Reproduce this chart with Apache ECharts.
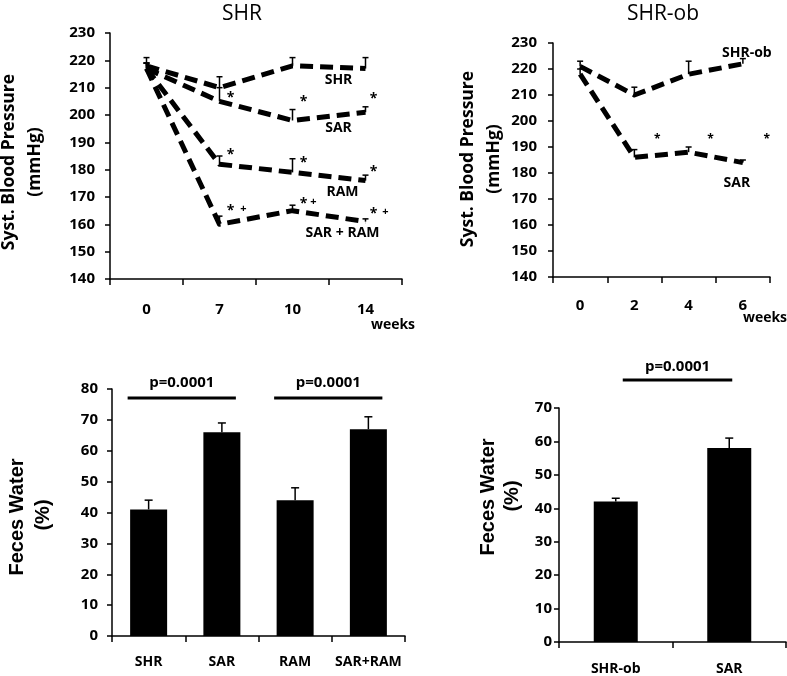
<!DOCTYPE html>
<html><head><meta charset="utf-8">
<script src="https://cdn.jsdelivr.net/npm/echarts@6/dist/echarts.min.js"></script>
<style>html,body{margin:0;padding:0;background:#fff}#c{width:787px;height:676px}</style>
</head><body><div id="c"></div><script>
// ---------- data ----------
const weeksSHR = ['0','7','10','14'];
const shr      = [218,210,218,217];
const shrErr   = [221,214,221,221];
const sar      = [217,205,198,201];
const sarErr   = [219,210,202,203];
const ram      = [217,182,179,176];
const ramErr   = [219,185,184,178];
const sarRam   = [217,160,165,161];
const sarRamErr= [219,163,167,162];

const weeksOb  = ['0','2','4','6'];
const shrOb    = [221,210,218,222];
const shrObErr = [223,213,223,224];
const sarOb    = [218,186,188,184];
const sarObErr = [220,189,190,185];

const fecesCats   = ['SHR','SAR','RAM','SAR+RAM'];
const feces       = [41,66,44,67];
const fecesErr    = [44,69,48,71];
const fecesObCats = ['SHR-ob','SAR'];
const fecesOb     = [42,58];
const fecesObErr  = [43,61];

const bpTicks1 = {min:140,max:230,interval:10};
const fwTicks1 = {min:0,max:80,interval:10};
const fwTicks2 = {min:0,max:70,interval:10};

// annotations: [text, category index, value]
const ann1 = [['SHR',3,212.8],['SAR',3,195.2],['RAM',3,171.8],['SAR + RAM',3,156.8],
  ['*',1,207],['*',2,205.5],['*',3,206.6],
  ['*',1,186.1],['*',2,183.2],['*',3,179.9],
  ['*',1,165.6],['*',2,168.2],['*',3,164.5],
  ['+',1,165.6],['+',2,168.2],['+',3,164.5]];
const ann2 = [['SHR-ob',3,226.2],['SAR',3,176.2],['*',1,193.8],['*',2,193.8],['*',3,193.8]];
// brackets: [from category, to category, value, text]
const brk1 = [[0,1,77.1,'p=0.0001'],[2,3,77.1,'p=0.0001']];
const brk2 = [[0,1,78.4,'p=0.0001']];

// ---------- layout helpers ----------
const FONT = '"Open Sans", "Noto Sans", sans-serif';
const annDx1 = {'SHR':-27,'SAR':-27,'RAM':-23,'SAR + RAM':-23,'*':[0,11,11,8],'+':[0,24,21,20]};
const annDx2 = {'SHR-ob':4,'SAR':-6,'*':[0,23,22,24]};

function errSeries(x, y, vals, errs, cap){
  return {type:'custom', xAxisIndex:x, yAxisIndex:y, silent:true, z:1,
    data: vals.map((v,i)=>[i,v,errs[i]]),
    renderItem:(p,api)=>{
      const a=api.coord([api.value(0),api.value(1)]), b=api.coord([api.value(0),api.value(2)]);
      return {type:'group',children:[
        {type:'line',shape:{x1:a[0],y1:a[1],x2:b[0],y2:b[1]},style:{stroke:'#000',lineWidth:1.5}},
        {type:'line',shape:{x1:b[0]-cap/2,y1:b[1],x2:b[0]+cap/2,y2:b[1]},style:{stroke:'#000',lineWidth:1.5}}]};
    }};
}
function lineSeries(x,y,vals){
  return {type:'line',xAxisIndex:x,yAxisIndex:y,data:vals,symbol:'none',silent:true,z:3,
    lineStyle:{color:'#000',width:5,type:[13,7],cap:'butt',join:'round'}};
}
function annSeries(x,y,list,dxMap,size,starSize){
  return {type:'custom',xAxisIndex:x,yAxisIndex:y,silent:true,z:4,clip:false,
    data:list.map(a=>[a[1],a[2],a[0]]),
    renderItem:(p,api)=>{
      const item=list[p.dataIndex]; const c=api.coord([item[1],item[2]]);
      let dx=dxMap[item[0]]; if(Array.isArray(dx)) dx=dx[item[1]];
      const small = item[0]==='+';
      const star = item[0]==='*';
      const fs = small?11:(star?starSize:size);
      return {type:'text',x:c[0]+dx,y:c[1]+(star?2:0),style:{text:item[0],font:'bold '+fs+'px '+FONT,
        fill:'#000',align:'center',verticalAlign:'middle'}};
    }};
}
function brkSeries(x,y,list,offs,gap){
  return {type:'custom',xAxisIndex:x,yAxisIndex:y,silent:true,z:4,clip:false,
    data:list.map(b=>[b[0],b[2]]),
    renderItem:(p,api)=>{
      const b=list[p.dataIndex]; const a=api.coord([b[0],b[2]]), e=api.coord([b[1],b[2]]);
      const x1=a[0]+offs[0], x2=e[0]+offs[1];
      return {type:'group',children:[
        {type:'line',shape:{x1:x1,y1:a[1],x2:x2,y2:a[1]},style:{stroke:'#000',lineWidth:3}},
        {type:'text',x:(x1+x2)/2,y:a[1]-gap,style:{text:b[3],font:'bold 15px '+FONT,fill:'#000',align:'center',verticalAlign:'middle'}}]};
    }};
}
function barSeries(x,y,vals,w){
  return {type:'bar',xAxisIndex:x,yAxisIndex:y,data:vals,barWidth:w,silent:true,z:2,
    itemStyle:{color:'#000'}};
}
const axLine = {show:true,lineStyle:{color:'#000',width:1.5}};
function catAxis(grid,cats,margin,size){
  return {type:'category',gridIndex:grid,data:cats,boundaryGap:true,axisLine:axLine,
    axisTick:{show:true,length:6,interval:0,lineStyle:{color:'#000',width:1.5}},
    axisLabel:{margin:margin,interval:0,color:'#000',fontWeight:'bold',fontSize:size,fontFamily:FONT},
    splitLine:{show:false}};
}
function valAxis(grid,t,margin){
  return {type:'value',gridIndex:grid,min:t.min,max:t.max,interval:t.interval,axisLine:axLine,
    axisTick:{show:true,length:5,lineStyle:{color:'#000',width:1.5}},
    axisLabel:{margin:margin,color:'#000',fontWeight:'bold',fontSize:15,fontFamily:FONT},
    splitLine:{show:false}};
}
function vtext(t,x,y,font){
  return {type:'text',x:x,y:y,rotation:Math.PI/2,silent:true,
    style:{text:t,font:font,fill:'#000',align:'center',verticalAlign:'middle'}};
}
function htext(t,x,y,font){
  return {type:'text',x:x,y:y,silent:true,style:{text:t,font:font,fill:'#000',align:'center',verticalAlign:'middle'}};
}

const chart = echarts.init(document.getElementById('c'),null,{renderer:'canvas'});
chart.setOption({
  animation:false,
  backgroundColor:'#fff',
  grid:[
    {left:110,top:33,width:292,height:246},
    {left:553,top:43,width:217,height:234},
    {left:112,top:389,width:293,height:247},
    {left:559,top:408,width:227,height:234}
  ],
  xAxis:[catAxis(0,weeksSHR,23,15),catAxis(1,weeksOb,21,15),catAxis(2,fecesCats,19,14),catAxis(3,fecesObCats,20,14)],
  yAxis:[valAxis(0,bpTicks1,15),valAxis(1,bpTicks1,16),valAxis(2,fwTicks1,14),valAxis(3,fwTicks2,7)],
  graphic:[
    htext('SHR',242,14,'21px '+FONT),
    htext('SHR-ob',663,14,'21px '+FONT),
    vtext('Syst. Blood Pressure',9,162,'bold 17.5px '+FONT),
    vtext('(mmHg)',35,162,'bold 17.5px '+FONT),
    vtext('Syst. Blood Pressure',468,159,'bold 17.5px '+FONT),
    vtext('(mmHg)',494,159,'bold 17.5px '+FONT),
    vtext('Feces Water',17,517,'bold 20px "Liberation Sans", Arial, sans-serif'),
    vtext('(%)',43,515,'bold 20px "Liberation Sans", Arial, sans-serif'),
    vtext('Feces Water',488,497,'bold 20px "Liberation Sans", Arial, sans-serif'),
    vtext('(%)',512,496,'bold 20px "Liberation Sans", Arial, sans-serif'),
    htext('weeks',393,325,'bold 14px '+FONT),
    htext('weeks',765,318,'bold 14px '+FONT)
  ],
  series:[
    errSeries(0,0,shr,shrErr,6), errSeries(0,0,sar,sarErr,6), errSeries(0,0,ram,ramErr,6), errSeries(0,0,sarRam,sarRamErr,6),
    lineSeries(0,0,shr), lineSeries(0,0,sar), lineSeries(0,0,ram), lineSeries(0,0,sarRam),
    annSeries(0,0,ann1,annDx1,14,14),
    errSeries(1,1,shrOb,shrObErr,6), errSeries(1,1,sarOb,sarObErr,6),
    lineSeries(1,1,shrOb), lineSeries(1,1,sarOb),
    annSeries(1,1,ann2,annDx2,14,12),
    barSeries(2,2,feces,37), errSeries(2,2,feces,fecesErr,8),
    brkSeries(2,2,brk1,[-21,14],15),
    barSeries(3,3,fecesOb,44), errSeries(3,3,fecesOb,fecesObErr,8),
    brkSeries(3,3,brk2,[7,3],13)
  ]
});
</script></body></html>
